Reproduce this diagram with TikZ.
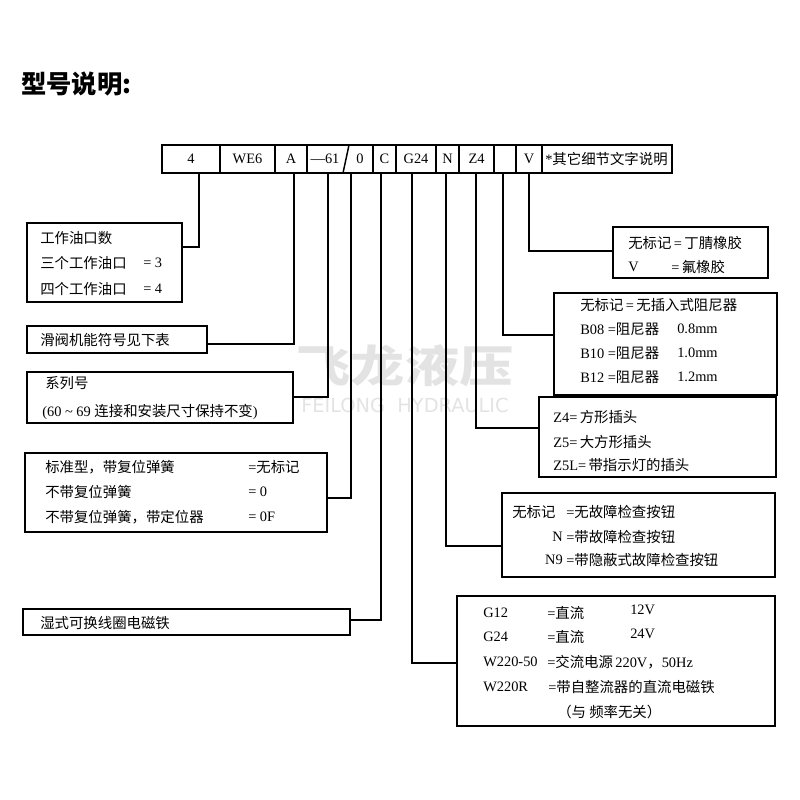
\documentclass[tikz,border=0pt]{standalone}
\usepackage{fontspec}
\setmainfont{Liberation Serif}
\newfontfamily\cjk{Noto Sans CJK SC}
\newfontfamily\wmfont{DejaVu Sans}
\usetikzlibrary{fit}
\newcommand\zh[1]{{\cjk #1}}
\begin{document}
\begin{tikzpicture}[x=0.75pt,y=-0.75pt,
  font=\fontsize{10.8}{12}\selectfont,
  box/.style={draw, line width=1.15pt, inner sep=0pt},
  txt/.style={anchor=west, inner sep=0pt},
  txtr/.style={anchor=east, inner sep=0pt},
  wire/.style={line width=1.1pt},
  wm/.style={text=black!11, inner sep=0pt}]
\useasboundingbox (0,0) rectangle (800,800);

% watermark
\node[wm, font=\cjk\bfseries\fontsize{33}{33}\selectfont, xscale=1.23] (wm1) at (405,366) {飞龙液压};
\node[wm, font=\wmfont\fontsize{14.5}{14.5}\selectfont] (wm2) at (405,405) {FEILONG\ \ HYDRAULIC};

% title
\node[txt, font=\cjk\bfseries\fontsize{19}{19}\selectfont] (title) at (21,84) {型号说明:};

% code row
\node[box, fit={(162,145) (220,173)}, label=center:4] (c4) {};
\node[box, fit={(220,145) (275,173)}, label=center:WE6] (cwe) {};
\node[box, fit={(275,145) (307,173)}, label=center:A] (ca) {};
\node[box, fit={(307,145) (373,173)}] (c61) {};
\draw[wire] (343,173) -- (349,145);
\node[inner sep=0pt] (t61) at (325,159) {—61};
\node[inner sep=0pt] (t0) at (360,159) {0};
\node[box, fit={(373,145) (396,173)}, label=center:C] (cc) {};
\node[box, fit={(396,145) (436,173)}, label=center:G24] (cg) {};
\node[box, fit={(436,145) (459,173)}, label=center:N] (cn) {};
\node[box, fit={(459,145) (494,173)}, label=center:Z4] (cz) {};
\node[box, fit={(494,145) (516,173)}] (ce) {};
\node[box, fit={(516,145) (542,173)}, label=center:V] (cv) {};
\node[box, fit={(542,145) (672,173)}] (cx) {};
\node[txt] (tx) at (545,159) {*\zh{其它细节文字说明}};

% left boxes
\node[box, fit={(27,223) (182,302)}] (b1) {};
\node[txt] (t1a) at (40,238) {\zh{工作油口数}};
\node[txt] (t1b) at (40,263) {\zh{三个工作油口}};
\node[txt] (t1c) at (143,263) {= 3};
\node[txt] (t1d) at (40,289) {\zh{四个工作油口}};
\node[txt] (t1e) at (143,289) {= 4};

\node[box, fit={(27,326) (207,353)}] (b2) {};
\node[txt] (t2) at (40,340) {\zh{滑阀机能符号见下表}};

\node[box, fit={(27,372) (293,423)}] (b3) {};
\node[txt] (t3a) at (45,383) {\zh{系列号}};
\node[txt] (t3b) at (42,412) {(60 \char`~\ 69 \zh{连接和安装尺寸保持不变})};

\node[box, fit={(25,453) (327,532)}] (b4) {};
\node[txt] (t4a) at (45,467) {\zh{标准型，带复位弹簧}};
\node[txt] (t4b) at (248,467) {=\zh{无标记}};
\node[txt] (t4c) at (45,492) {\zh{不带复位弹簧}};
\node[txt] (t4d) at (248,492) {= 0};
\node[txt] (t4e) at (45,517) {\zh{不带复位弹簧，带定位器}};
\node[txt] (t4f) at (248,517) {= 0F};

\node[box, fit={(23,609) (350,635)}] (b5) {};
\node[txt] (t5) at (40,623) {\zh{湿式可换线圈电磁铁}};

% right boxes
\node[box, fit={(613,227) (768,278)}] (r1) {};
\node[txt] (u1a) at (628,243) {\zh{无标记}\,=\,\zh{丁腈橡胶}};
\node[txt] (u1b) at (628,267) {V};
\node[txt] (u1c) at (671,267) {=\,\zh{氟橡胶}};

\node[box, fit={(554,293) (777,395)}] (r2) {};
\node[txt] (u2a) at (580,305) {\zh{无标记}\,=\,\zh{无插入式阻尼器}};
\node[txt] (u2b) at (580,329) {B08 =\zh{阻尼器}};
\node[txt] (u2c) at (677,329) {0.8mm};
\node[txt] (u2d) at (580,353) {B10 =\zh{阻尼器}};
\node[txt] (u2e) at (677,353) {1.0mm};
\node[txt] (u2f) at (580,377) {B12 =\zh{阻尼器}};
\node[txt] (u2g) at (677,377) {1.2mm};

\node[box, fit={(539,397) (776,477)}] (r3) {};
\node[txt] (u3a) at (553,417) {Z4=\,\zh{方形插头}};
\node[txt] (u3b) at (553,442) {Z5=\,\zh{大方形插头}};
\node[txt] (u3c) at (553,465) {Z5L=\,\zh{带指示灯的插头}};

\node[box, fit={(502,493) (775,577)}] (r4) {};
\node[txt] (u4a) at (512,512) {\zh{无标记}};
\node[txt] (u4b) at (566,512) {=\zh{无故障检查按钮}};
\node[txtr] (u4c) at (563,537) {N};
\node[txt] (u4d) at (566,537) {=\zh{带故障检查按钮}};
\node[txtr] (u4e) at (563,560) {N9};
\node[txt] (u4f) at (566,560) {=\zh{带隐蔽式故障检查按钮}};

\node[box, fit={(457,596) (775,726)}] (r5) {};
\node[txt] (u5a) at (483,613) {G12};
\node[txt] (u5b) at (547,613) {=\zh{直流}};
\node[txt] (u5c) at (630,610) {12V};
\node[txt] (u5d) at (483,637) {G24};
\node[txt] (u5e) at (547,637) {=\zh{直流}};
\node[txt] (u5f) at (630,634) {24V};
\node[txt] (u5g) at (483,662) {W220-50};
\node[txt] (u5h) at (547,662) {=\zh{交流电源}\,220V\zh{，}50Hz};
\node[txt] (u5i) at (483,687) {W220R};
\node[txt] (u5j) at (548,687) {=\zh{带自整流器的直流电磁铁}};
\node[txt] (u5k) at (557,712) {\zh{（与 频率无关）}};

% connector tops
\coordinate (p4) at (199,173);
\coordinate (pa) at (294,173);
\coordinate (p61) at (328,173);
\coordinate (p0) at (351,173);
\coordinate (pc) at (381,173);
\coordinate (pg) at (412,173);
\coordinate (pn) at (446,173);
\coordinate (pz) at (476,173);
\coordinate (pe) at (503,173);
\coordinate (pv) at (529,173);
% connector ends on boxes
\coordinate (k1) at (b1.east |- 0,247);
\coordinate (k2) at (b2.east |- 0,344);
\coordinate (k3) at (b3.east |- 0,397);
\coordinate (k4) at (b4.east |- 0,498);
\coordinate (k5) at (b5.east |- 0,620);
\coordinate (k6) at (r1.west |- 0,251);
\coordinate (k7) at (r2.west |- 0,335);
\coordinate (k8) at (r3.west |- 0,428);
\coordinate (k9) at (r4.west |- 0,546);
\coordinate (k10) at (r5.west |- 0,663);

\draw[wire] (p4) |- (k1);
\draw[wire] (pa) |- (k2);
\draw[wire] (p61) |- (k3);
\draw[wire] (p0) |- (k4);
\draw[wire] (pc) |- (k5);
\draw[wire] (pv) |- (k6);
\draw[wire] (pe) |- (k7);
\draw[wire] (pz) |- (k8);
\draw[wire] (pn) |- (k9);
\draw[wire] (pg) |- (k10);
\end{tikzpicture}
\end{document}
